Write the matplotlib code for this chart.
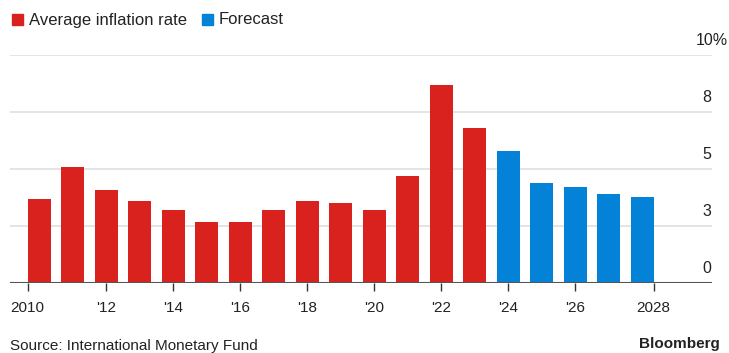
import matplotlib.pyplot as plt
from matplotlib.patches import Rectangle

plt.rcParams['font.family'] = ['Liberation Sans', 'DejaVu Sans']

years = list(range(2010, 2029))
inflation = [3.7, 5.1, 4.1, 3.6, 3.2, 2.7, 2.7, 3.2, 3.6, 3.5, 3.2, 4.7, 8.7, 6.8,
             5.8, 4.4, 4.2, 3.9, 3.8]
first_forecast = 2024
tick_years = [2010, 2012, 2014, 2016, 2018, 2020, 2022, 2024, 2026, 2028]
tick_labels = ['2010', "'12", "'14", "'16", "'18", "'20", "'22", "'24", "'26", '2028']
y_ticks = [0, 2.5, 5, 7.5, 10]
y_labels = ['0', '3', '5', '8', '10%']

RED = '#d9221e'
BLUE = '#0382d8'
TEXT = '#222222'

W, H = 729, 353
fig = plt.figure(figsize=(W / 100, H / 100), dpi=100)
ax = fig.add_axes([10 / W, (H - 283.3) / H, (711.5 - 10) / W, (283.3 - 55) / H])

bar_w = 0.69
colors = [RED if y < first_forecast else BLUE for y in years]
ax.bar(years, inflation, width=bar_w, color=colors, zorder=3)

ax.set_xlim(2009.128, 2030.07)
ax.set_ylim(0, 10)

# horizontal grid
for v in y_ticks[1:]:
    ax.axhline(v, color='#e2e2e2', lw=1.3, zorder=1)
ax.axhline(0, color='#555555', lw=1.5, zorder=4)

for s in ax.spines.values():
    s.set_visible(False)
ax.set_yticks([])

# outer ticks sit on the edges of the first/last bars
tick_pos = list(tick_years)
tick_pos[0] = tick_years[0] - bar_w / 2
tick_pos[-1] = tick_years[-1] + bar_w / 2
ax.set_xticks(tick_pos)
ax.set_xticklabels(tick_labels, fontsize=11, color=TEXT)
ax.tick_params(axis='x', length=5.5, width=1, color='#333333', pad=7)

# y labels sit above their gridlines on the right, the % sign hangs past the edge
off = 14.5 / 22.8
for v, lab in zip(y_ticks, y_labels):
    dx = 16 if lab.endswith('%') else 0
    ax.annotate(lab, (1.0, v + off), xycoords=ax.get_yaxis_transform(),
                xytext=(dx * 0.72, 0), textcoords='offset points',
                ha='right', va='center', fontsize=11.5, color=TEXT,
                annotation_clip=False)

# legend
fig.patches.append(Rectangle((12 / W, 1 - 25 / H), 11 / W, 11 / H,
                             transform=fig.transFigure, color=RED))
fig.text(29 / W, 1 - 20 / H, 'Average inflation rate', fontsize=12,
         color=TEXT, va='center', ha='left')
fig.patches.append(Rectangle((202 / W, 1 - 25 / H), 11 / W, 11 / H,
                             transform=fig.transFigure, color=BLUE))
fig.text(219 / W, 1 - 20 / H, 'Forecast', fontsize=12,
         color=TEXT, va='center', ha='left')

fig.text(10 / W, 1 - 346 / H, 'Source: International Monetary Fund',
         fontsize=11, color=TEXT, va='center', ha='left')
fig.text(720 / W, 1 - 344 / H, 'Bloomberg', fontsize=11, fontweight='bold',
         color=TEXT, va='center', ha='right')

fig.savefig('out.png', dpi=100)
